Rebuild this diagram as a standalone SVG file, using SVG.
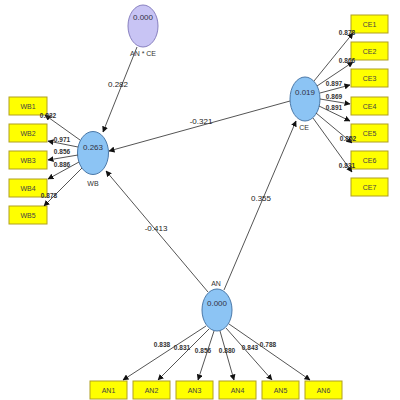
<svg xmlns="http://www.w3.org/2000/svg" width="400" height="400" viewBox="0 0 400 400">
<defs>
<marker id="ah" markerWidth="6" markerHeight="6" refX="5.5" refY="3" orient="auto" markerUnits="userSpaceOnUse">
<path d="M0,0 L6,3 L0,6 z" fill="#111"/>
</marker>
<style>
.lv{fill:#8cc4f4;stroke:#4a78a8;stroke-width:1}
.int{fill:#c8c4f4;stroke:#8880c0;stroke-width:1}
.ind{fill:#ffff00;stroke:#b0a020;stroke-width:1}
.c{stroke:#555;stroke-width:1;fill:none;marker-end:url(#ah)}
.r2{font-family:"Liberation Sans",Arial,sans-serif;font-size:8px;fill:#334;text-anchor:middle}
.nm{font-family:"Liberation Sans",Arial,sans-serif;font-size:7px;fill:#333;text-anchor:middle}
.bx{font-family:"Liberation Sans",Arial,sans-serif;font-size:7px;fill:#444;text-anchor:middle}
.ld{font-family:"Liberation Sans",Arial,sans-serif;font-size:6.5px;font-weight:bold;fill:#333;text-anchor:middle}
.pc{font-family:"Liberation Sans",Arial,sans-serif;font-size:8px;fill:#222;text-anchor:middle}
</style>
</defs>
<rect width="400" height="400" fill="#fff"/>
<g id="ANxCE">
<ellipse class="int" cx="143" cy="26" rx="15" ry="21"/>
<text class="r2" x="143" y="20">0.000</text>
<text class="nm" x="143" y="56">AN * CE</text>
</g>
<g id="WB">
<ellipse class="lv" cx="93" cy="153" rx="15.5" ry="21.5"/>
<text class="r2" x="93" y="150">0.263</text>
<text class="nm" x="93" y="186">WB</text>
</g>
<g id="CE">
<ellipse class="lv" cx="305" cy="99" rx="15" ry="22"/>
<text class="r2" x="305" y="95">0.019</text>
<text class="nm" x="304" y="130">CE</text>
</g>
<g id="AN">
<ellipse class="lv" cx="217" cy="310" rx="15" ry="21"/>
<text class="r2" x="217" y="306">0.000</text>
<text class="nm" x="216" y="286">AN</text>
</g>
<g id="WB1"><rect class="ind" x="9" y="97" width="38" height="18"/><text class="bx" x="28" y="109">WB1</text></g>
<g id="WB2"><rect class="ind" x="9" y="124" width="38" height="18"/><text class="bx" x="28" y="136">WB2</text></g>
<g id="WB3"><rect class="ind" x="9" y="151" width="38" height="18"/><text class="bx" x="28" y="163">WB3</text></g>
<g id="WB4"><rect class="ind" x="9" y="179" width="38" height="18"/><text class="bx" x="28" y="191">WB4</text></g>
<g id="WB5"><rect class="ind" x="9" y="206" width="38" height="18"/><text class="bx" x="28" y="218">WB5</text></g>
<g id="CE1"><rect class="ind" x="351" y="15" width="37" height="18"/><text class="bx" x="369.5" y="27">CE1</text></g>
<g id="CE2"><rect class="ind" x="351" y="42" width="37" height="18"/><text class="bx" x="369.5" y="54">CE2</text></g>
<g id="CE3"><rect class="ind" x="351" y="69" width="37" height="18"/><text class="bx" x="369.5" y="81">CE3</text></g>
<g id="CE4"><rect class="ind" x="351" y="97" width="37" height="18"/><text class="bx" x="369.5" y="109">CE4</text></g>
<g id="CE5"><rect class="ind" x="351" y="124" width="37" height="18"/><text class="bx" x="369.5" y="136">CE5</text></g>
<g id="CE6"><rect class="ind" x="351" y="151" width="37" height="18"/><text class="bx" x="369.5" y="163">CE6</text></g>
<g id="CE7"><rect class="ind" x="351" y="178" width="37" height="18"/><text class="bx" x="369.5" y="190">CE7</text></g>
<g id="AN1"><rect class="ind" x="90" y="381" width="37" height="18"/><text class="bx" x="108.5" y="393">AN1</text></g>
<g id="AN2"><rect class="ind" x="133" y="381" width="37" height="18"/><text class="bx" x="151.5" y="393">AN2</text></g>
<g id="AN3"><rect class="ind" x="176" y="381" width="37" height="18"/><text class="bx" x="194.5" y="393">AN3</text></g>
<g id="AN4"><rect class="ind" x="219" y="381" width="37" height="18"/><text class="bx" x="237.5" y="393">AN4</text></g>
<g id="AN5"><rect class="ind" x="262" y="381" width="37" height="18"/><text class="bx" x="280.5" y="393">AN5</text></g>
<g id="AN6"><rect class="ind" x="305" y="381" width="37" height="18"/><text class="bx" x="323.5" y="393">AN6</text></g>
<g id="connectors">
<line class="c" x1="137" y1="47" x2="103" y2="132"/>
<line class="c" x1="290" y1="101" x2="109" y2="151"/>
<line class="c" x1="208" y1="292" x2="106" y2="171"/>
<line class="c" x1="224" y1="290" x2="296" y2="121"/>
<line class="c" x1="80" y1="140" x2="45" y2="115"/>
<line class="c" x1="78" y1="147" x2="48" y2="141"/>
<line class="c" x1="78" y1="155" x2="48" y2="160"/>
<line class="c" x1="79" y1="162" x2="48" y2="179"/>
<line class="c" x1="82" y1="168" x2="44" y2="206"/>
<line class="c" x1="314" y1="81" x2="353" y2="33"/>
<line class="c" x1="317" y1="86" x2="353" y2="62"/>
<line class="c" x1="320" y1="93" x2="350" y2="85"/>
<line class="c" x1="320" y1="99" x2="350" y2="104"/>
<line class="c" x1="319" y1="106" x2="350" y2="121"/>
<line class="c" x1="316" y1="113" x2="352" y2="143"/>
<line class="c" x1="313" y1="118" x2="352" y2="172"/>
<line class="c" x1="206" y1="326" x2="123" y2="380"/>
<line class="c" x1="209" y1="329" x2="158" y2="380"/>
<line class="c" x1="214" y1="331" x2="198" y2="380"/>
<line class="c" x1="220" y1="331" x2="234" y2="380"/>
<line class="c" x1="226" y1="328" x2="272" y2="380"/>
<line class="c" x1="229" y1="324" x2="310" y2="380"/>
<text class="pc" x="118" y="87">0.282</text>
<text class="pc" x="201" y="124">-0.321</text>
<text class="pc" x="156" y="231">-0.413</text>
<text class="pc" x="261" y="201">0.355</text>
<text class="ld" x="48" y="118">0.832</text>
<text class="ld" x="62" y="142">0.971</text>
<text class="ld" x="62" y="154">0.856</text>
<text class="ld" x="62" y="167">0.886</text>
<text class="ld" x="49" y="198">0.878</text>
<text class="ld" x="347" y="35">0.878</text>
<text class="ld" x="347" y="63">0.866</text>
<text class="ld" x="334" y="86">0.897</text>
<text class="ld" x="334" y="99">0.869</text>
<text class="ld" x="334" y="110">0.891</text>
<text class="ld" x="348" y="141">0.852</text>
<text class="ld" x="347" y="168">0.831</text>
<text class="ld" x="162" y="347">0.838</text>
<text class="ld" x="182" y="350">0.831</text>
<text class="ld" x="203" y="353">0.856</text>
<text class="ld" x="227" y="353">0.880</text>
<text class="ld" x="250" y="350">0.843</text>
<text class="ld" x="268" y="347">0.788</text>
</g>
</svg>
